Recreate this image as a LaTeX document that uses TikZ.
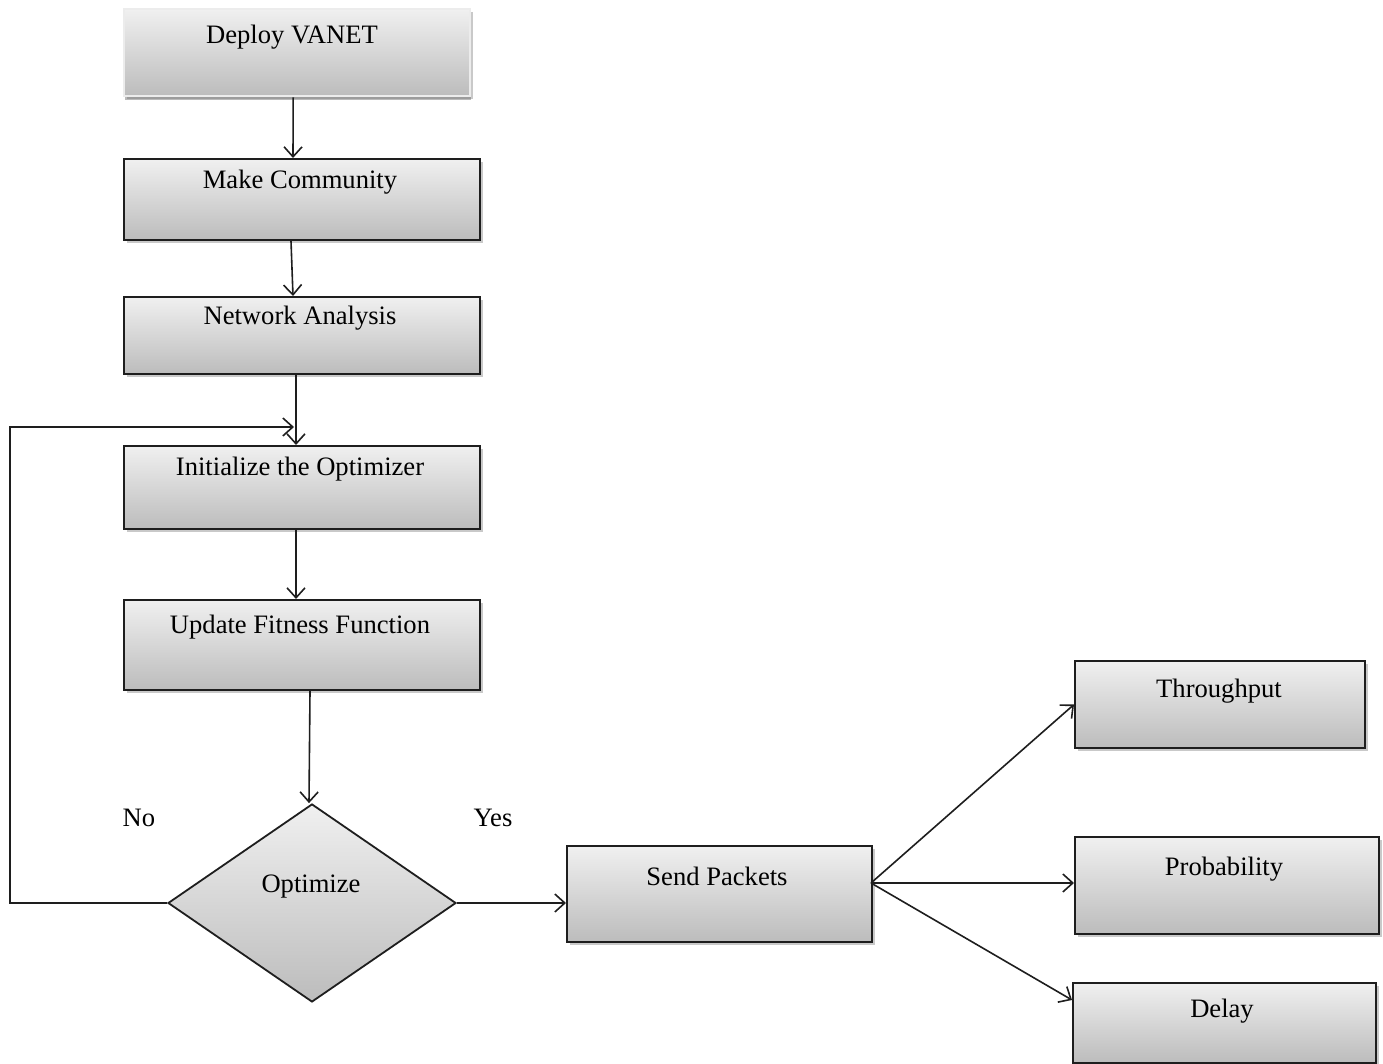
\documentclass[tikz,border=0pt]{standalone}
\usepackage{fontspec}
\setmainfont{Liberation Serif}
\usetikzlibrary{arrows.meta,shapes.geometric,shadows}
\definecolor{gtop}{RGB}{240,240,240}
\definecolor{gbot}{RGB}{188,188,188}
\definecolor{edge}{RGB}{30,30,30}
\tikzset{
  box/.style={rectangle, draw=edge, line width=1pt, top color=gtop, bottom color=gbot,
    anchor=north west, inner sep=0pt,
    drop shadow={shadow xshift=1.5pt, shadow yshift=-1.5pt, opacity=0.35, fill=black!60}},
  topbox/.style={box, draw=white!85!gray, line width=1.2pt,
    drop shadow={shadow xshift=0.5pt, shadow yshift=-2pt, opacity=0.45, fill=black!60}},
  lbl/.style={anchor=center, font=\fontsize{13.3}{16}\selectfont, inner sep=0pt},
  dec/.style={diamond, draw=edge, line width=0.9pt, top color=gtop, bottom color=gbot,
    minimum width=144pt, minimum height=99pt, inner sep=0pt, aspect=1.45},
  arr/.style={draw=edge, line width=0.8pt, -{Straight Barb[length=5pt,width=9pt]}},
  ln/.style={draw=edge, line width=0.8pt}
}
\begin{document}
\begin{tikzpicture}[x=0.5pt,y=-0.5pt]
\useasboundingbox[fill=white] (0,0) rectangle (1383,1064);
% boxes
\node[topbox, minimum width=173pt, minimum height=43.5pt] (deploy) at (123,8) {};
\node[box, minimum width=178pt, minimum height=40.5pt] (make) at (123,158) {};
\node[box, minimum width=178pt, minimum height=38.5pt] (net) at (123,296) {};
\node[box, minimum width=178pt, minimum height=41.5pt] (init) at (123,445) {};
\node[box, minimum width=178pt, minimum height=45pt] (upd) at (123,599) {};
\node[box, minimum width=152.5pt, minimum height=48pt] (send) at (566,845) {};
\node[box, minimum width=145pt, minimum height=43.5pt] (thr) at (1074,660) {};
\node[box, minimum width=152pt, minimum height=48.5pt] (prob) at (1074,836) {};
\node[box, minimum width=151.5pt, minimum height=40pt] (delay) at (1072,982) {};
\node[dec] (opt) at (312,903) {};
% texts
\node[lbl] (tdeploy) at (292,37) {Deploy VANET};
\node[lbl] (tmake) at (300,182) {Make Community};
\node[lbl] (tnet) at (300,318) {Network Analysis};
\node[lbl] (tinit) at (300,469) {Initialize the Optimizer};
\node[lbl] (tupd) at (300,627) {Update Fitness Function};
\node[lbl] (topt) at (311,887) {Optimize};
\node[lbl] (tsend) at (717,876) {Send Packets};
\node[lbl] (tthr) at (1219,691) {Throughput};
\node[lbl] (tprob) at (1224,869) {Probability};
\node[lbl] (tdelay) at (1222,1011) {Delay};
\node[lbl] (tno) at (139,818) {No};
\node[lbl] (tyes) at (493,818) {Yes};
% connectors
\draw[arr] ([xshift=-2pt]deploy.south) -- ([xshift=-4.5pt]make.north);
\draw[arr] ([xshift=-5.5pt]make.south) -- ([xshift=-4.5pt]net.north);
\draw[arr] ([xshift=-3pt]net.south) -- ([xshift=-3pt]init.north);
\draw[arr] ([xshift=-3pt]init.south) -- ([xshift=-3pt]upd.north);
\draw[arr] ([xshift=4pt]upd.south) -- ([xshift=-1.5pt]opt.north);
\coordinate (loopc) at (10,903);
\coordinate (loopend) at (294,427);
\draw[arr] (opt.west) -- (loopc) |- (loopend);
\draw[arr] (opt.east) -- (opt.east -| send.west);
\coordinate (fan) at (871,883);
\draw[arr] (fan) -- (thr.west);
\draw[arr] (fan) -- (fan -| prob.west);
\draw[arr] (fan) -- ([yshift=-9pt]delay.north west);
\end{tikzpicture}
\end{document}
